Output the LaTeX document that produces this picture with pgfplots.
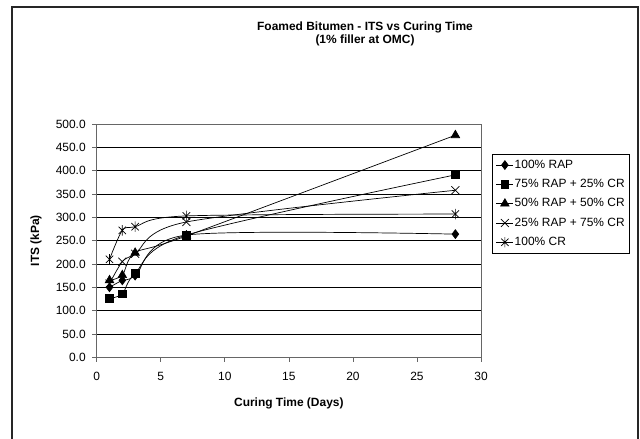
\documentclass[border=0pt]{standalone}
\usepackage{pgfplots}
\pgfplotsset{compat=1.18}
\usepackage{fontspec}
\setmainfont{Liberation Sans}

% Excel style asterisk: a cross with a vertical bar
\pgfdeclareplotmark{xbar}{%
  \pgfpathmoveto{\pgfqpoint{-.7071\pgfplotmarksize}{-.7071\pgfplotmarksize}}%
  \pgfpathlineto{\pgfqpoint{.7071\pgfplotmarksize}{.7071\pgfplotmarksize}}%
  \pgfpathmoveto{\pgfqpoint{-.7071\pgfplotmarksize}{.7071\pgfplotmarksize}}%
  \pgfpathlineto{\pgfqpoint{.7071\pgfplotmarksize}{-.7071\pgfplotmarksize}}%
  \pgfpathmoveto{\pgfqpoint{0pt}{-\pgfplotmarksize}}%
  \pgfpathlineto{\pgfqpoint{0pt}{\pgfplotmarksize}}%
  \pgfusepathqstroke}

\begin{document}
\begin{tikzpicture}
% 640 x 439 px picture, 1px = 1bp, origin top-left
\draw[use as bounding box, draw=none] (0,0) rectangle (640bp,-439bp);
\draw[black!85, line width=1.6bp] (12bp,-439bp) -- (12bp,-7bp) -- (638bp,-7bp) -- (638bp,-439bp);

\node[font=\fontsize{12}{12.5}\selectfont\bfseries, align=center] at (365bp,-34bp)
  {Foamed Bitumen - ITS vs Curing Time\\(1\% filler at OMC)};

\begin{axis}[
    at={(96.7bp,-357.3bp)}, anchor=south west,
    scale only axis,
    width=384.3bp, height=233.3bp,
    xmin=0, xmax=30, ymin=0, ymax=500,
    xtick={0,5,...,30},
    ytick={0,50,...,500},
    /pgf/number format/assume math mode=true,
    tick label style={font=\fontsize{12}{13}\selectfont},
    xticklabel style={yshift=-7bp},
    yticklabel style={xshift=-3bp, /pgf/number format/.cd, fixed, fixed zerofill, precision=1},
    tick align=outside,
    tick style={gray!80!black, line width=0.7bp},
    major tick length=4.5bp,
    xtick pos=bottom, ytick pos=left,
    axis line style={gray!80!black, line width=0.9bp},
    ymajorgrids,
    grid style={black, line width=0.7bp},
    xlabel={Curing Time (Days)},
    ylabel={ITS (kPa)},
    label style={font=\fontsize{12}{13}\selectfont\bfseries},
    xlabel style={at={(axis description cs:0.5,-0.196)}, anchor=center},
    ylabel style={at={(axis description cs:-0.158,0.5)}, anchor=center},
    every axis plot/.append style={black, line width=0.7bp, smooth, tension=0.5,
        mark options={solid, fill=black}},
    legend style={at={(rel axis cs:1.0278,0.8714)}, anchor=north west,
        draw=black, line width=0.7bp,
        font=\fontsize{12}{13}\selectfont,
        nodes={inner sep=1bp, text height=8.8bp, text depth=2.6bp},
        row sep=5.9bp, inner xsep=4bp, inner ysep=4bp},
    legend cell align=left,
    legend image post style={line width=0.7bp},
]
\addplot[mark=diamond*, mark size=4.4bp] coordinates {
    (1,150) (2,165) (3,175) (7,262) (28,264)
};
\addplot[mark=square*, mark size=3.9bp] coordinates {
    (1,126) (2,136) (3,180) (7,262) (28,391)
};
\addplot[mark=triangle*, mark size=4.9bp] coordinates {
    (1,165) (2,176) (3,224) (7,260) (28,476)
};
\addplot[mark=x, mark size=5.6bp] coordinates {
    (1,158) (2,205) (3,222) (7,290) (28,358)
};
\addplot[mark=xbar, mark size=5.2bp] coordinates {
    (1,210) (2,272) (3,280) (7,303) (28,307)
};
\legend{100\% RAP, 75\% RAP + 25\% CR, 50\% RAP + 50\% CR, 25\% RAP + 75\% CR, 100\% CR}
\end{axis}
\end{tikzpicture}
\end{document}
